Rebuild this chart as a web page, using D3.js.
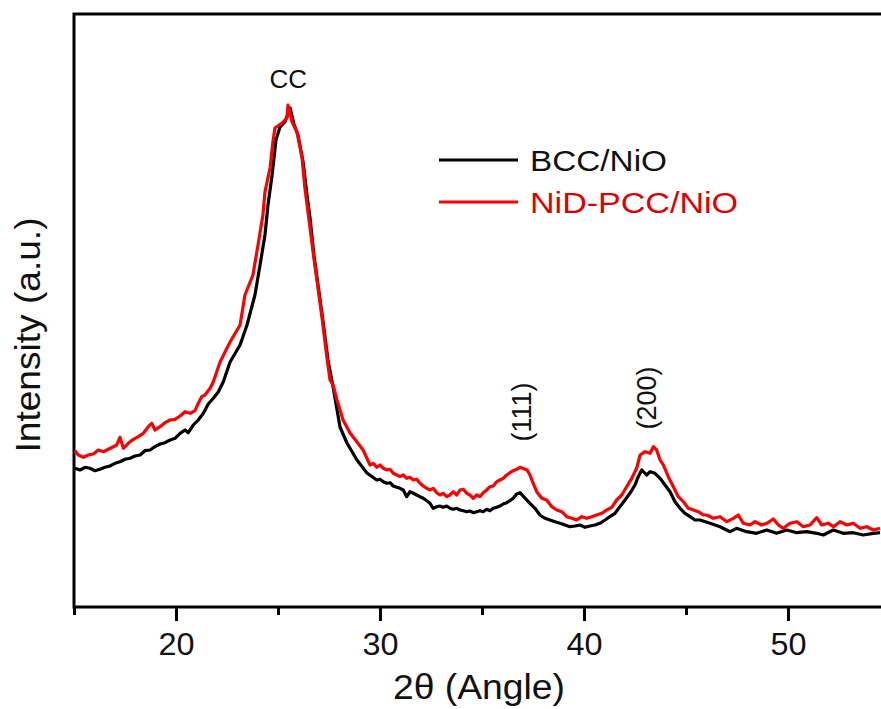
<!DOCTYPE html>
<meta charset="utf-8">
<style>
body { margin: 0; background: #fff; }
text { font-family: "Liberation Sans", Arial, sans-serif; }
.axis path, .axis line { stroke: #000; stroke-width: 3px; }
.curve { fill: none; stroke-width: 3.2px; stroke-linejoin: round; }
</style>
<body>
<script src="https://cdn.jsdelivr.net/npm/d3@7"></script>
<script>

var width = 881,
    height = 709;

// XRD patterns, 2theta (deg) vs intensity (a.u.)
var angleBCC = [15.05, 15.29, 15.54, 15.78, 16.03, 16.27, 16.52, 16.76, 17.01, 17.25,
  17.50, 17.75, 17.99, 18.24, 18.48, 18.73, 18.97, 19.22, 19.46, 19.71,
  19.95, 20.20, 20.44, 20.60, 20.85, 21.09, 21.34, 21.58, 21.83, 22.08,
  22.32, 22.65, 23.14, 23.48, 23.87, 24.12, 24.36, 24.51, 24.71, 24.90,
  25.10, 25.34, 25.59, 25.78, 25.98, 26.23, 26.42, 26.57, 26.76, 27.01,
  27.21, 27.45, 27.70, 28.04, 28.38, 28.87, 29.36,
  29.84, 30.00, 30.16, 30.33, 30.49, 30.65, 30.82, 30.98, 31.14, 31.31,
  31.47, 31.63, 31.80, 31.96, 32.12, 32.29, 32.45, 32.61, 32.78, 32.94,
  33.10, 33.27, 33.43, 33.59, 33.76, 33.92, 34.08, 34.25, 34.41, 34.57,
  34.74, 34.90, 35.06, 35.23, 35.39, 35.55, 35.72, 35.88, 36.04, 36.21,
  36.37, 36.53, 36.70, 36.86,
  37.35, 37.60, 37.84, 38.09, 38.33, 38.58, 38.82, 39.07, 39.31, 39.56,
  39.80, 40.05, 40.29, 40.54, 40.78, 41.03, 41.27, 41.52, 41.76, 42.01,
  42.25, 42.50, 42.66, 42.83, 43.07, 43.24, 43.48, 43.73, 43.97, 44.22,
  44.46, 44.71, 44.95, 45.20, 45.44,
  45.69, 46.18, 46.67, 47.16, 47.48, 47.97, 48.46, 48.96, 49.44, 49.94,
  50.43, 50.92, 51.41, 51.73, 52.22, 52.71, 53.20, 53.69, 54.18, 54.51];
var intBCC = [1387, 1370, 1397, 1387, 1363, 1377, 1397, 1410, 1437, 1453,
  1477, 1487, 1510, 1520, 1563, 1570, 1603, 1630, 1643, 1670,
  1687, 1737, 1770, 1743, 1820, 1870, 1937, 2030, 2087, 2153,
  2253, 2450, 2620, 2820, 3120, 3420, 3720, 4020, 4320, 4670,
  4800, 4850, 4990, 4830, 4720, 4450, 4120, 3890, 3520, 3150,
  2850, 2470, 2200, 1800, 1640, 1470, 1340,
  1270, 1277, 1253, 1237, 1243, 1210, 1197, 1187, 1170, 1103,
  1153, 1137, 1120, 1103, 1087, 1063, 1037, 987, 1003, 1010,
  997, 1010, 987, 977, 987, 970, 963, 953, 960, 943,
  953, 963, 953, 977, 963, 987, 997, 1010, 1030, 1043,
  1063, 1087, 1130, 1143,
  1037, 987, 920, 887, 870, 853, 837, 820, 803, 810,
  820, 797, 810, 820, 837, 870, 903, 937, 1003, 1070,
  1137, 1220, 1303, 1370, 1320, 1353, 1337, 1287, 1220, 1153,
  1053, 987, 937, 903, 870,
  870, 837, 803, 753, 787, 753, 737, 770, 737, 770,
  743, 753, 737, 720, 770, 737, 743, 720, 737, 743];

var angleNiD = [15.05, 15.21, 15.46, 15.70, 15.95, 16.19, 16.44, 16.68, 16.93, 17.09,
  17.25, 17.42, 17.66, 17.91, 18.15, 18.40, 18.64, 18.81, 18.97, 19.22,
  19.46, 19.71, 19.95, 20.20, 20.44, 20.69, 20.93, 21.09, 21.26, 21.42,
  21.67, 21.83,
  22.16, 22.65, 23.14, 23.38, 23.77, 24.02, 24.26, 24.36, 24.61, 24.75,
  24.85, 25.20, 25.44, 25.49, 25.69, 25.93, 26.18, 26.32, 26.47, 26.72,
  26.96, 27.16, 27.40, 27.55, 27.70, 27.89, 28.19, 28.53, 28.87, 29.17,
  29.51, 29.67, 29.84, 30.00, 30.16, 30.33, 30.49, 30.65, 30.82, 30.98,
  31.14, 31.31, 31.47, 31.63, 31.80, 31.96, 32.12, 32.29, 32.45, 32.61,
  32.78, 32.94, 33.10, 33.27, 33.43, 33.59, 33.76, 33.92, 34.08, 34.25,
  34.41, 34.57, 34.74, 34.90, 35.06, 35.23, 35.39, 35.55, 35.72, 35.88,
  36.04, 36.21, 36.37, 36.53, 36.70, 36.86, 37.21,
  37.35, 37.51, 37.68, 37.93, 38.17, 38.42, 38.66, 38.91, 39.15, 39.40,
  39.64, 39.89, 40.13, 40.38, 40.62, 40.87, 41.11, 41.36, 41.60, 41.85,
  42.09, 42.34, 42.58, 42.75, 42.99, 43.24, 43.40, 43.56, 43.73, 43.89,
  44.13, 44.38, 44.62, 44.87, 45.11, 45.36, 45.60, 45.85,
  46.01, 46.34, 46.67, 47.00, 47.32, 47.56, 47.81, 48.14, 48.38, 48.71,
  48.96, 49.28, 49.53, 49.77, 50.10, 50.43, 50.75, 51.08, 51.41, 51.65,
  51.98, 52.23, 52.55, 52.88, 53.20, 53.53, 53.86, 54.18, 54.51];
var intNiD = [1563, 1520, 1497, 1520, 1530, 1570, 1553, 1577, 1603, 1620,
  1697, 1587, 1637, 1677, 1703, 1737, 1803, 1837, 1770, 1803,
  1843, 1870, 1877, 1910, 1953, 1937, 1963, 2037, 2103, 2120,
  2187, 2253,
  2450, 2650, 2820, 3120, 3320, 3620, 3920, 4150, 4390, 4650,
  4790, 4840, 4890, 5020, 4850, 4750, 4490, 4190, 3950, 3550,
  3190, 2890, 2490, 2270, 2220, 2070, 1870, 1740, 1650, 1570,
  1420, 1437, 1397, 1420, 1387, 1370, 1377, 1337, 1320, 1303,
  1320, 1287, 1297, 1270, 1277, 1237, 1210, 1187, 1170, 1187,
  1143, 1120, 1137, 1103, 1120, 1153, 1120, 1170, 1177, 1137,
  1120, 1087, 1120, 1103, 1143, 1170, 1203, 1210, 1253, 1270,
  1287, 1320, 1343, 1363, 1377, 1397, 1370,
  1320, 1237, 1153, 1087, 1070, 1003, 970, 953, 903, 887,
  870, 903, 887, 903, 920, 937, 970, 997, 1070, 1120,
  1203, 1287, 1387, 1520, 1553, 1537, 1603, 1570, 1470, 1420,
  1303, 1203, 1103, 1053, 987, 970, 953, 920,
  920, 887, 903, 853, 887, 920, 837, 820, 853, 820,
  837, 880, 820, 787, 837, 853, 803, 820, 893, 820,
  837, 803, 853, 820, 837, 787, 803, 770, 787];

var seriesNames = ["BCC/NiO", "NiD-PCC/NiO"];
var seriesColors = ["#000000", "#ff0000"];
var legendTextColors = ["#111111", "#e00000"];

var majorTicks = [20, 30, 40, 50];
var minorTicks = [15, 25, 35, 45, 55];

var peakLabels = ["(111)", "(200)"];
var peakAngles = [36.9, 43.05];

var margin = {left: 74, top: 14, bottom: 607, right: 992};

var x = d3.scaleLinear().domain([15, 60]).range([margin.left, margin.right]);
var y = d3.scaleLinear().domain([0, 5930]).range([margin.bottom, margin.top]);

var svg = d3.select("body").append("svg")
    .attr("width", width)
    .attr("height", height);

// frame (right edge falls outside the picture)
svg.append("rect")
    .attr("x", margin.left)
    .attr("y", margin.top)
    .attr("width", margin.right - margin.left)
    .attr("height", margin.bottom - margin.top)
    .attr("fill", "none")
    .attr("stroke", "#000")
    .attr("stroke-width", 3);

var line = d3.line()
    .x(function(d) { return x(d[0]); })
    .y(function(d) { return y(d[1]); });

var bcc = angleBCC.map(function(a, i) { return [a, intBCC[i]]; });
var nid = angleNiD.map(function(a, i) { return [a, intNiD[i]]; });

svg.append("path").datum(bcc)
    .attr("class", "curve")
    .attr("stroke", seriesColors[0])
    .attr("d", line);
svg.append("path").datum(nid)
    .attr("class", "curve")
    .attr("stroke", seriesColors[1])
    .attr("d", line);

// x axis, major + minor ticks
var gx = svg.append("g")
    .attr("class", "axis")
    .attr("transform", "translate(0," + margin.bottom + ")")
    .call(d3.axisBottom(x).tickValues(majorTicks).tickSize(14).tickPadding(11).tickSizeOuter(0));
gx.select(".domain").remove();
gx.selectAll("text")
    .attr("font-size", 32)
    .attr("fill", "#111")
    .attr("font-family", "Liberation Sans, Arial, sans-serif")
    .attr("textLength", 36)
    .attr("lengthAdjust", "spacingAndGlyphs");

svg.append("g")
    .attr("class", "axis")
    .attr("transform", "translate(0," + margin.bottom + ")")
    .call(d3.axisBottom(x).tickValues(minorTicks).tickSize(8).tickFormat("").tickSizeOuter(0))
  .select(".domain").remove();

// axis titles
svg.append("text")
    .attr("x", 479)
    .attr("y", 699)
    .attr("text-anchor", "middle")
    .attr("font-size", 35)
    .attr("fill", "#111")
    .attr("textLength", 172)
    .attr("lengthAdjust", "spacingAndGlyphs")
    .text("2\u03B8 (Angle)");

svg.append("text")
    .attr("transform", "translate(40,335) rotate(-90)")
    .attr("text-anchor", "middle")
    .attr("font-size", 35)
    .attr("fill", "#111")
    .attr("textLength", 235)
    .attr("lengthAdjust", "spacingAndGlyphs")
    .text("Intensity (a.u.)");

// peak labels
svg.append("text")
    .attr("x", x(25.5))
    .attr("y", 88)
    .attr("text-anchor", "middle")
    .attr("font-size", 26)
    .attr("fill", "#111")
    .text("CC");

peakLabels.forEach(function(lbl, i) {
  svg.append("text")
      .attr("transform", "translate(" + (x(peakAngles[i]) + 10) + "," + (i ? 398 : 412) + ") rotate(-90)")
      .attr("text-anchor", "middle")
      .attr("font-size", 27)
      .attr("fill", "#111")
      .text(lbl);
});

// legend
var legendWidths = [137, 208];
var legend = svg.append("g").attr("transform", "translate(439,160)");
seriesNames.forEach(function(name, i) {
  var g = legend.append("g").attr("transform", "translate(0," + i * 42 + ")");
  g.append("line")
      .attr("x1", 0).attr("x2", 79)
      .attr("stroke", seriesColors[i])
      .attr("stroke-width", 3);
  g.append("text")
      .attr("x", 91)
      .attr("y", 11)
      .attr("font-size", 30)
      .attr("fill", legendTextColors[i])
      .attr("textLength", legendWidths[i])
      .attr("lengthAdjust", "spacingAndGlyphs")
      .text(name);
});

</script>
